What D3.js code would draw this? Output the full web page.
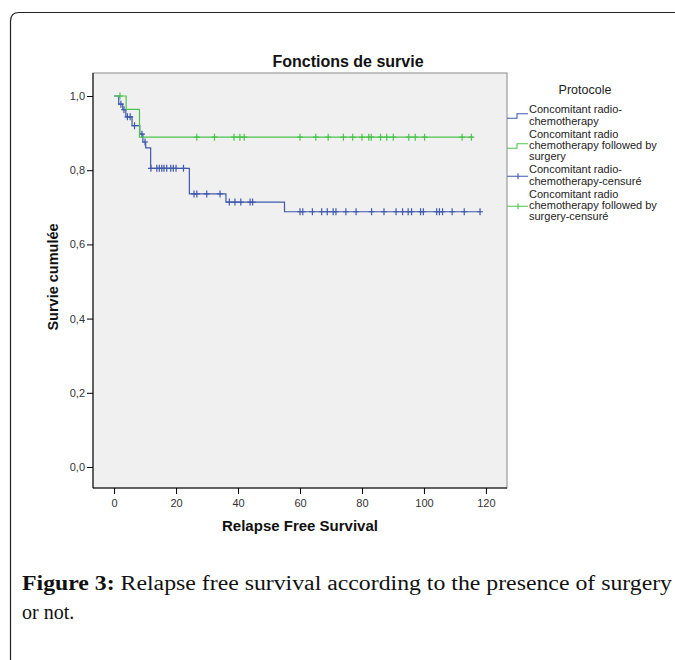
<!DOCTYPE html>
<html>
<head>
<meta charset="utf-8">
<script src="https://cdn.jsdelivr.net/npm/d3@7"></script>
<style>
  body { margin: 0; background: #fff; }
  svg text { font-family: Arial, "Liberation Sans", sans-serif; }
</style>
</head>
<body>
<svg id="chart" width="675" height="660"></svg>
<script>
// survival steps (time, cumulative survival)
var blueTimes = [0, 1.5, 2.8, 3.8, 5.8, 8.3, 9.3, 10.2, 11.8, 24.3, 36.1, 55];
var blueSurv = [1, 0.978, 0.963, 0.944, 0.92, 0.897, 0.876, 0.86, 0.805, 0.736, 0.714, 0.688];
var blueEnd = 118.3;
var blueCensor = [2.2, 3.2, 4.3, 5.2, 6.6, 9.0, 10.0, 11.9, 13.8, 14.6, 15.4, 16.1, 17.0, 18.3, 19.1, 20.0, 22.4,
  25.8, 26.7, 29.9, 34.2, 37.2, 39.0, 40.9, 43.9, 44.7, 60.0, 60.9, 64.0, 67.0, 68.8, 70.7, 71.6, 74.8, 78.1,
  83.1, 87.1, 91.0, 93.1, 94.9, 96.0, 98.9, 99.8, 104.1, 105.0, 106.0, 109.1, 113.0, 118.1];

var greenTimes = [0, 3.9, 8.2];
var greenSurv = [1, 0.964, 0.889];
var greenEnd = 115.8;
var greenCensor = [1.9, 26.7, 32.4, 38.7, 40.6, 42.0, 60.0, 65.1, 69.1, 74.0, 77.0, 80.0, 82.2, 83.0, 86.0,
  88.0, 90.1, 95.1, 97.2, 100.2, 112.3, 115.3];

var xTicks = [0, 20, 40, 60, 80, 100, 120];
var yTicks = [0, 0.2, 0.4, 0.6, 0.8, 1.0];

var legendItems = [
  {lines: ["Concomitant radio-", "chemotherapy"], color: "#3f59ad", kind: "step"},
  {lines: ["Concomitant radio", "chemotherapy followed by", "surgery"], color: "#4cc34c", kind: "step"},
  {lines: ["Concomitant radio-", "chemotherapy-censuré"], color: "#3f59ad", kind: "cross"},
  {lines: ["Concomitant radio", "chemotherapy followed by", "surgery-censuré"], color: "#4cc34c", kind: "cross"}
];

var svg = d3.select("#chart");

// outer frame
svg.append("path")
  .attr("d", "M10.5,662 L10.5,21 Q10.5,12.5 19,12.5 L680,12.5")
  .attr("fill", "none").attr("stroke", "#222").attr("stroke-width", 1.2);

var x = d3.scaleLinear().domain([-6.8, 126.8]).range([93, 507]);
var y = d3.scaleLinear().domain([-0.0566, 1.062]).range([488, 73]);

svg.append("rect")
  .attr("x", 93).attr("y", 73).attr("width", 414).attr("height", 415)
  .attr("fill", "#f0f0f0").attr("stroke", "#8a8a8a").attr("stroke-width", 1);
svg.append("line").attr("x1", 93).attr("x2", 93).attr("y1", 73).attr("y2", 488).attr("stroke", "#000");
svg.append("line").attr("x1", 93).attr("x2", 507).attr("y1", 488).attr("y2", 488).attr("stroke", "#000");

// axes
var fmt = function(d) { return d3.format(".1f")(d).replace(".", ","); };
var yAxis = svg.append("g").attr("transform", "translate(93,0)")
  .call(d3.axisLeft(y).tickValues(yTicks).tickFormat(fmt).tickSize(6).tickPadding(2));
var xAxis = svg.append("g").attr("transform", "translate(0,488)")
  .call(d3.axisBottom(x).tickValues(xTicks).tickSize(6).tickPadding(5));
[yAxis, xAxis].forEach(function(a) {
  a.select(".domain").remove();
  a.selectAll("text").attr("font-size", 11).attr("fill", "#333")
    .attr("font-family", "Arial, 'Liberation Sans', sans-serif");
  a.selectAll("line").attr("stroke", "#000");
});

function stepData(times, surv, end) {
  var pts = times.map(function(t, i) { return [t, surv[i]]; });
  pts.push([end, surv[surv.length - 1]]);
  return pts;
}
function survAt(times, surv, t) {
  var s = surv[0];
  times.forEach(function(tt, i) { if (tt <= t) s = surv[i]; });
  return s;
}

var line = d3.line().x(function(d) { return x(d[0]); }).y(function(d) { return y(d[1]); })
  .curve(d3.curveStepAfter);

function drawCurve(times, surv, end, censor, color) {
  var g = svg.append("g");
  g.append("path").datum(stepData(times, surv, end))
    .attr("d", line).attr("fill", "none").attr("stroke", color).attr("stroke-width", 1.2);
  g.selectAll("path.cens").data(censor).enter().append("path")
    .attr("class", "cens")
    .attr("d", function(t) {
      var cx = x(t), cy = y(survAt(times, surv, t));
      return "M" + (cx - 3) + "," + cy + "H" + (cx + 3) + "M" + cx + "," + (cy - 3.5) + "V" + (cy + 3.5);
    })
    .attr("stroke", color).attr("stroke-width", 1.2).attr("fill", "none");
}
drawCurve(blueTimes, blueSurv, blueEnd, blueCensor, "#3f59ad");
drawCurve(greenTimes, greenSurv, greenEnd, greenCensor, "#4cc34c");

// titles
svg.append("text").attr("x", 348).attr("y", 67).attr("text-anchor", "middle")
  .attr("font-size", 16).attr("font-weight", "bold").attr("fill", "#111").text("Fonctions de survie");
svg.append("text").attr("x", 300).attr("y", 531).attr("text-anchor", "middle")
  .attr("font-size", 15).attr("font-weight", "bold").attr("fill", "#111").text("Relapse Free Survival");
svg.append("text").attr("transform", "translate(58,277) rotate(-90)").attr("text-anchor", "middle")
  .attr("font-size", 14.5).attr("font-weight", "bold").attr("fill", "#111").text("Survie cumulée");

// legend
svg.append("text").attr("x", 585).attr("y", 94).attr("text-anchor", "middle")
  .attr("font-size", 12.5).attr("fill", "#222").text("Protocole");
var lineH = 11.4;
var ly = 109.5;
legendItems.forEach(function(item) {
  var n = item.lines.length;
  var mid = ly + (n - 1) * lineH / 2 + 1;
  var g = svg.append("g");
  if (item.kind === "step") {
    g.append("path")
      .attr("d", "M507," + (mid + 2) + "H517V" + (mid - 2.5) + "H528")
      .attr("fill", "none").attr("stroke", item.color).attr("stroke-width", 1.1);
  } else {
    g.append("path")
      .attr("d", "M507," + mid + "H528M518," + (mid - 3) + "V" + (mid + 3))
      .attr("fill", "none").attr("stroke", item.color).attr("stroke-width", 1.1);
  }
  item.lines.forEach(function(s, i) {
    g.append("text").attr("x", 529).attr("y", ly + i * lineH + 3.8)
      .attr("font-size", 11).attr("fill", "#222").text(s);
  });
  ly += n * lineH + 1.5;
});

// caption
var cap = svg.append("text").attr("x", 22).attr("y", 590)
  .attr("font-size", 20).attr("fill", "#111")
  .style("font-family", "'Liberation Serif', 'DejaVu Serif', serif")
  .attr("textLength", 650).attr("lengthAdjust", "spacingAndGlyphs");
cap.append("tspan").attr("font-weight", "bold").text("Figure 3:");
cap.append("tspan").text(" Relapse free survival according to the presence of surgery");
svg.append("text").attr("x", 22).attr("y", 619)
  .attr("font-size", 20).attr("fill", "#111")
  .style("font-family", "'Liberation Serif', 'DejaVu Serif', serif")
  .text("or not.");
</script>
</body>
</html>
